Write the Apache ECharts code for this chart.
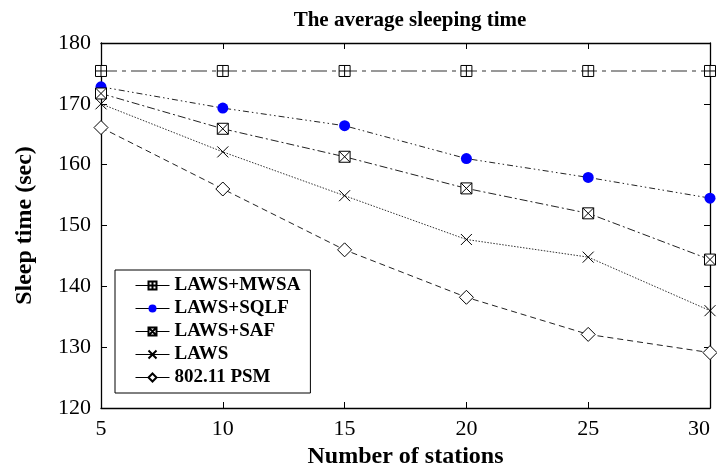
<!DOCTYPE html>
<html><head><meta charset="utf-8">
<script src="https://cdn.jsdelivr.net/npm/echarts@6/dist/echarts.min.js"></script>
<style>html,body{margin:0;padding:0;background:#fff}#c{width:717px;height:468px}</style>
</head><body><div id="c"></div>
<script>
const stations = [5, 10, 15, 20, 25, 30];
const seriesNames = ['LAWS+MWSA', 'LAWS+SQLF', 'LAWS+SAF', 'LAWS', '802.11 PSM'];
const mwsa = [175.4, 175.4, 175.4, 175.4, 175.4, 175.4];
const sqlf = [172.8, 169.3, 166.4, 161.0, 157.9, 154.5];
const saf  = [171.7, 165.9, 161.3, 156.1, 152.0, 144.4];
const laws = [170.0, 162.1, 154.9, 147.7, 144.8, 136.0];
const psm  = [166.1, 156.0, 146.0, 138.2, 132.1, 129.1];
const yTicks = [120, 130, 140, 150, 160, 170, 180];
const xTicks = [5, 10, 15, 20, 25, 30];

const FONT = '"Liberation Serif", "Times New Roman", serif';
const sqPlus = 'path://M0,0 L10,0 L10,10 L0,10 Z M5,0 L5,10 M0,5 L10,5';
const sqX = 'path://M0,0 L10,0 L10,10 L0,10 Z M0,0 L10,10 M10,0 L0,10';
const cross = 'path://M0,0 L10,10 M10,0 L0,10';
const diamond = 'path://M5,0 L10,5 L5,10 L0,5 Z';

function pts(arr){ return stations.map((s,i)=>[s, arr[i]]); }

const chart = echarts.init(document.getElementById('c'), null, {renderer:'canvas'});
const axisCommon = {
  axisLine:{show:true, lineStyle:{color:'#000', width:1.3}},
  axisTick:{show:true, inside:true, length:6, lineStyle:{color:'#000', width:1}},
  splitLine:{show:false}
};
chart.setOption({
  backgroundColor:'#fff',
  animation:false,
  title:{text:'The average sleeping time', left:405, top:5, textAlign:'center',
    textStyle:{fontFamily:FONT, fontWeight:'bold', fontSize:21, color:'#000'}},
  grid:{left:101, right:7, top:43, bottom:60, outerBoundsMode:'none', containLabel:false},
  legend:{
    orient:'vertical', left:115, top:270,
    data: seriesNames,
    backgroundColor:'#fff', borderColor:'#000', borderWidth:1,
    padding:[6,10,6,20], itemGap:4, itemWidth:34, itemHeight:10,
    textStyle:{fontFamily:FONT, fontWeight:'bold', fontSize:19, color:'#000'},
    lineStyle:{type:'solid', color:'#000', width:1}
  },
  xAxis:[
    Object.assign({type:'value', min:5, max:30, interval:5, position:'bottom',
      axisLabel:{fontFamily:FONT, fontSize:22, color:'#000', margin:10, alignMaxLabel:'right'},
      name:'Number of stations', nameLocation:'middle', nameGap:36,
      nameTextStyle:{fontFamily:FONT, fontWeight:'bold', fontSize:24, color:'#000'}}, axisCommon),
    Object.assign({type:'value', min:5, max:30, interval:5, position:'top',
      axisLabel:{show:false}}, axisCommon)
  ],
  yAxis:[
    Object.assign({type:'value', min:120, max:180, interval:10, position:'left',
      axisLabel:{fontFamily:FONT, fontSize:22, color:'#000', margin:10},
      name:'Sleep time (sec)', nameLocation:'middle', nameGap:64,
      nameTextStyle:{fontFamily:FONT, fontWeight:'bold', fontSize:24, color:'#000'}}, axisCommon),
    Object.assign({type:'value', min:120, max:180, interval:10, position:'right',
      axisLabel:{show:false}}, axisCommon)
  ],
  series:[
    {name:seriesNames[0], type:'line', data:pts(mwsa), symbol:sqPlus, symbolSize:11,
      itemStyle:{color:'#fff', borderColor:'#000', borderWidth:1},
      lineStyle:{color:'#777', width:1.5, type:[16,5,4,5]}},
    {name:seriesNames[1], type:'line', data:pts(sqlf), symbol:'circle', symbolSize:11,
      itemStyle:{color:'#0000ff', borderWidth:0},
      lineStyle:{color:'#222', width:1, type:[6,3,1.5,3,1.5,3]}},
    {name:seriesNames[2], type:'line', data:pts(saf), symbol:sqX, symbolSize:11,
      itemStyle:{color:'#fff', borderColor:'#000', borderWidth:1},
      lineStyle:{color:'#222', width:1, type:[8,3,2,3]}},
    {name:seriesNames[3], type:'line', data:pts(laws), symbol:cross, symbolSize:11,
      itemStyle:{color:'none', borderColor:'#000', borderWidth:1},
      lineStyle:{color:'#333', width:1, type:[1.5,1.5]}},
    {name:seriesNames[4], type:'line', data:pts(psm), symbol:diamond, symbolSize:14,
      itemStyle:{color:'#fff', borderColor:'#000', borderWidth:1},
      lineStyle:{color:'#222', width:1, type:[6,4]}}
  ]
});
</script></body></html>
